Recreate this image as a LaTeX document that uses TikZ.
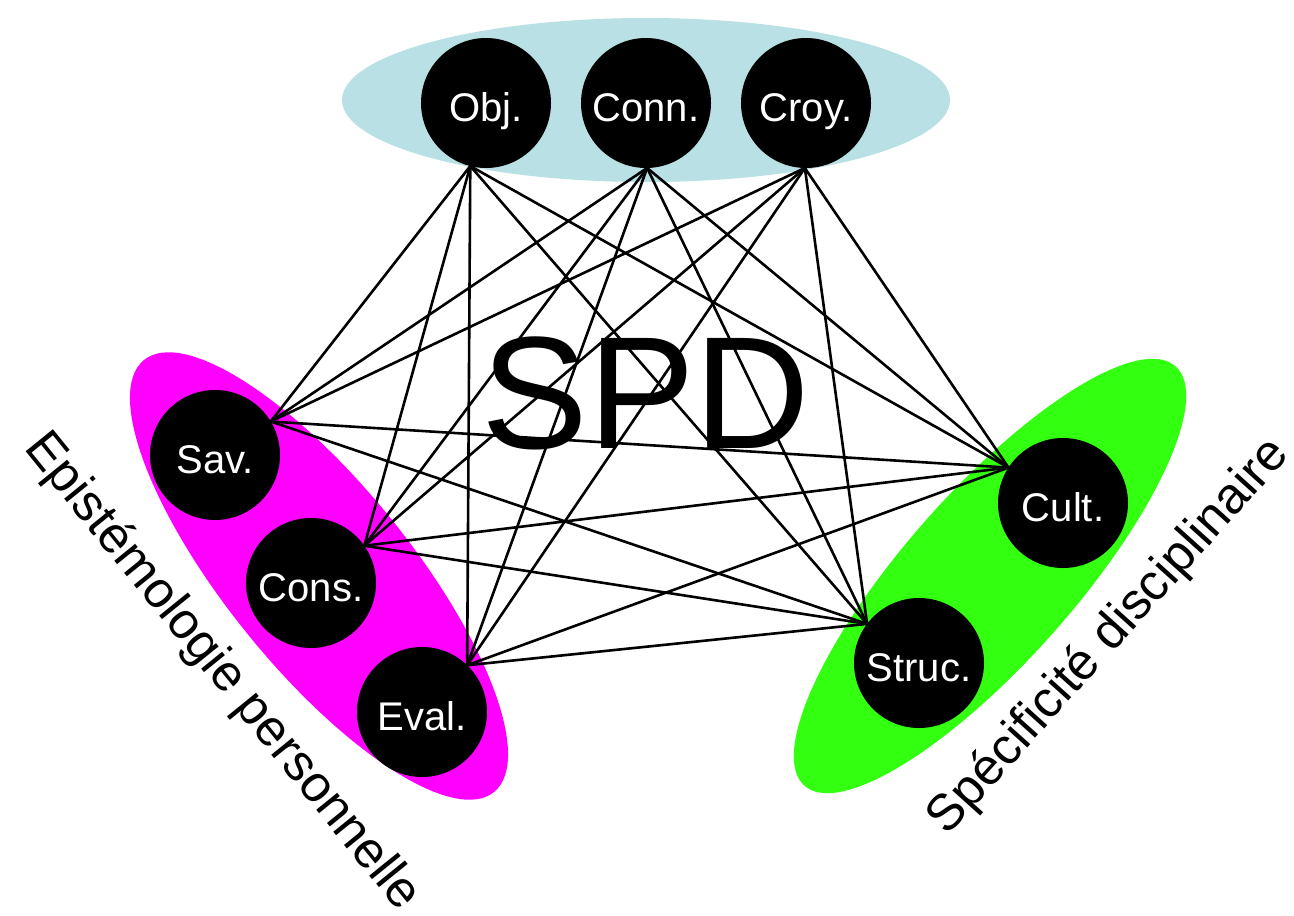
\documentclass[tikz,border=0pt]{standalone}
\usepackage{fontspec}
\setmainfont{Liberation Sans}
\definecolor{ellblue}{RGB}{185,224,228}
\definecolor{ellmag}{RGB}{255,0,255}
\definecolor{ellgreen}{RGB}{51,255,17}
\begin{document}
\begin{tikzpicture}[x=1pt,y=-1pt,
  concept/.style={circle,fill=black,minimum size=130pt,inner sep=0pt,outer sep=0pt,
    text=white,font=\fontsize{40}{40}\selectfont,text height=36pt,text depth=0pt},
  link/.style={line width=2.6pt,black},
  grouplabel/.style={font=\fontsize{51}{51}\selectfont,inner sep=0pt}]
\useasboundingbox (0,0) rectangle (1294,916);
% group ellipses
\fill[ellblue] (646,100) ellipse [x radius=304, y radius=82];
\fill[ellmag,rotate around={-51:(319,576)}] (319,576) ellipse [x radius=278, y radius=92];
\fill[ellgreen,rotate around={48.5:(990,576)}] (990,576) ellipse [x radius=280, y radius=85];
% concept nodes
\node[concept] (obj)   at (486,103) {Obj.};
\node[concept] (conn)  at (646,103) {Conn.};
\node[concept] (croy)  at (806,103) {Croy.};
\node[concept] (sav)   at (215,455) {Sav.};
\node[concept] (cons)  at (311,583) {Cons.};
\node[concept] (eval)  at (422,712) {Eval.};
\node[concept] (cult)  at (1063,503) {Cult.};
\node[concept] (struc) at (919,663) {Struc.};
% connectors
\foreach \t in {obj.256,conn.271,croy.269}{
  \foreach \o in {sav.31,cons.35,eval.46,cult.147,struc.143}{
    \draw[link] (\t) -- (\o);
  }
}
\foreach \l in {sav.31,cons.35,eval.46}{
  \foreach \r in {cult.147,struc.143}{
    \draw[link] (\l) -- (\r);
  }
}
% labels
\node[font=\fontsize{160}{160}\selectfont,anchor=base,inner sep=0pt] (spd) at (646,448) {SPD};
\node[grouplabel,rotate=-51] (epi) at (222,672) {Epistémologie personnelle};
\node[grouplabel,rotate=48] (spec) at (1109,637) {Spécificité disciplinaire};
\end{tikzpicture}
\end{document}
